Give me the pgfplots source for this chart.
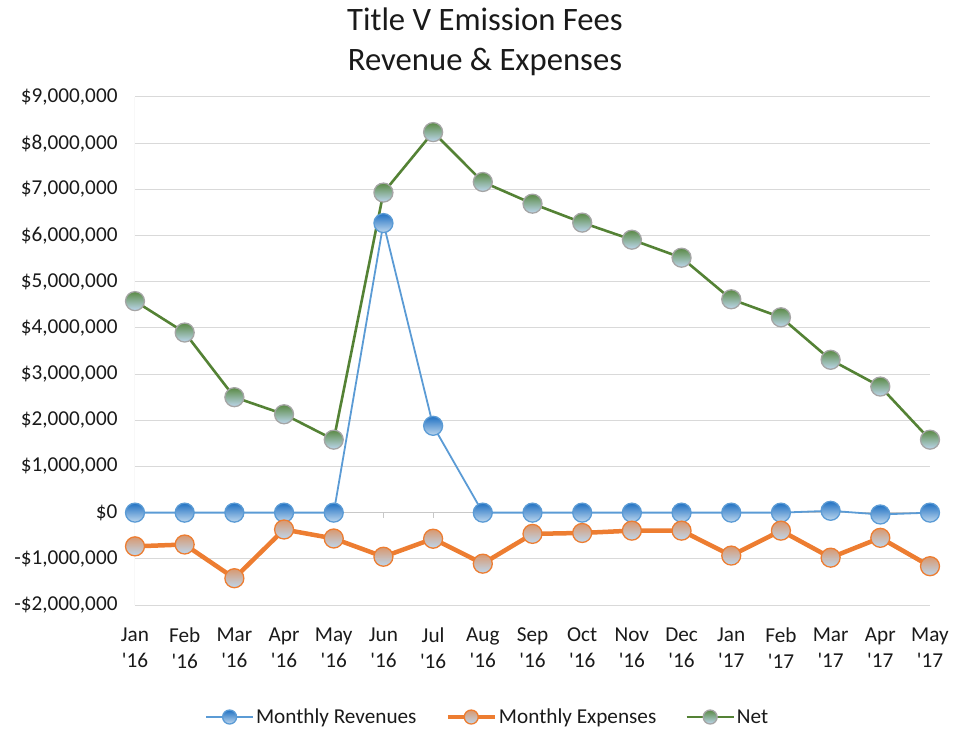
\documentclass[border=0pt]{standalone}
\usepackage{fontspec}
\setmainfont{Carlito}
\usepackage{pgfplots}
\usepackage{pgfplotstable}
\pgfplotsset{compat=1.18}
\definecolor{lblue}{HTML}{5B9BD5}
\definecolor{lorange}{HTML}{ED7D31}
\definecolor{lgreen}{HTML}{548235}
\definecolor{gridgray}{HTML}{D9D9D9}
\definecolor{axgray}{HTML}{C8C8C8}
\definecolor{mkbot}{HTML}{BDD7EE}
\definecolor{mkbluetop}{HTML}{2272C3}
\definecolor{mkorangetop}{HTML}{D8986F}
\definecolor{mkgreentop}{HTML}{5A8A45}
\definecolor{mkgray}{HTML}{A5A5A5}
\definecolor{txt}{HTML}{1A1A1A}
\pgfdeclareplotmark{ballblue}{\path[draw=lblue,line width=1.3bp,top color=mkbluetop,bottom color=mkbot] (0pt,0pt) circle (\pgfplotmarksize);}
\pgfdeclareplotmark{ballorange}{\path[draw=lorange,line width=1.3bp,top color=mkorangetop,bottom color=mkbot] (0pt,0pt) circle (\pgfplotmarksize);}
\pgfdeclareplotmark{ballgreen}{\path[draw=mkgray,line width=1.3bp,top color=mkgreentop,bottom color=mkbot] (0pt,0pt) circle (\pgfplotmarksize);}
\pgfplotstableread{
x rev exp net
0 0 -730000 4580000
1 0 -690000 3900000
2 0 -1420000 2500000
3 0 -365000 2130000
4 0 -560000 1580000
5 6270000 -955000 6930000
6 1880000 -565000 8240000
7 0 -1105000 7160000
8 0 -460000 6690000
9 0 -440000 6280000
10 0 -390000 5910000
11 0 -390000 5520000
12 0 -930000 4620000
13 0 -390000 4230000
14 40000 -975000 3310000
15 -40000 -545000 2730000
16 0 -1160000 1580000
}\datatable
\begin{document}
\begin{tikzpicture}
\begin{axis}[
  scale only axis, width=795bp, height=508bp,
  xmin=0, xmax=16, ymin=-2000000, ymax=9000000,
  scaled y ticks=false,
  axis line style={draw=none},
  tick style={draw=none},
  ymajorgrids, major grid style={draw=gridgray, line width=1bp},
  ytick={-2000000,-1000000,0,1000000,2000000,3000000,4000000,5000000,6000000,7000000,8000000,9000000},
  yticklabels={{-\$2,000,000},{-\$1,000,000},{\$0},{\$1,000,000},{\$2,000,000},{\$3,000,000},{\$4,000,000},{\$5,000,000},{\$6,000,000},{\$7,000,000},{\$8,000,000},{\$9,000,000}},
  yticklabel style={font=\fontsize{21.3}{24}\selectfont, text=txt, anchor=east, xshift=-14bp},
  xtick={0,...,16},
  xticklabels={{Jan\\\textquotesingle16},{Feb\\\textquotesingle16},{Mar\\\textquotesingle16},{Apr\\\textquotesingle16},{May\\\textquotesingle16},{Jun\\\textquotesingle16},{Jul\\\textquotesingle16},{Aug\\\textquotesingle16},{Sep\\\textquotesingle16},{Oct\\\textquotesingle16},{Nov\\\textquotesingle16},{Dec\\\textquotesingle16},{Jan\\\textquotesingle17},{Feb\\\textquotesingle17},{Mar\\\textquotesingle17},{Apr\\\textquotesingle17},{May\\\textquotesingle17}},
  xticklabel style={font=\fontsize{21.3}{26}\selectfont, text=txt, align=center, anchor=north, yshift=-19bp},
  legend columns=3,
  legend style={at={(0.0843,-0.2205)}, anchor=west, draw=none, fill=none,
    font=\fontsize{21.3}{24}\selectfont, text=txt,
    /tikz/every even column/.append style={column sep=27bp}},
  legend image code/.code={\draw[mark repeat=2,mark phase=2,#1,mark size=7bp] plot coordinates {(0bp,0bp) (23.5bp,0bp) (47bp,0bp)};},
]
\draw[axgray, line width=1bp] (axis cs:0,-2000000) -- (axis cs:0,9000000);
\draw[axgray, line width=1bp] (axis cs:0,0) -- (axis cs:16,0);
\pgfplotsinvokeforeach{0,...,16}{\draw[axgray, line width=1bp] (axis cs:#1,0) -- ++(0pt,-5bp);}
\addplot[lblue, line width=1.8bp, mark=ballblue, mark size=9.5bp] table[x=x,y=rev] {\datatable};
\addlegendentry{Monthly Revenues}
\addplot[lorange, line width=4.5bp, mark=ballorange, mark size=9.5bp] table[x=x,y=exp] {\datatable};
\addlegendentry{Monthly Expenses}
\addplot[lgreen, line width=2.6bp, mark=ballgreen, mark size=9.5bp] table[x=x,y=net] {\datatable};
\addlegendentry{Net}
\end{axis}
\node[align=center, font=\fontsize{32.8}{40}\selectfont, text=txt] at (350bp,563bp) {Title V Emission Fees\\Revenue \& Expenses};
\pgfresetboundingbox
\path (-135bp,-127bp) rectangle (826bp,605bp);
\end{tikzpicture}
\end{document}
